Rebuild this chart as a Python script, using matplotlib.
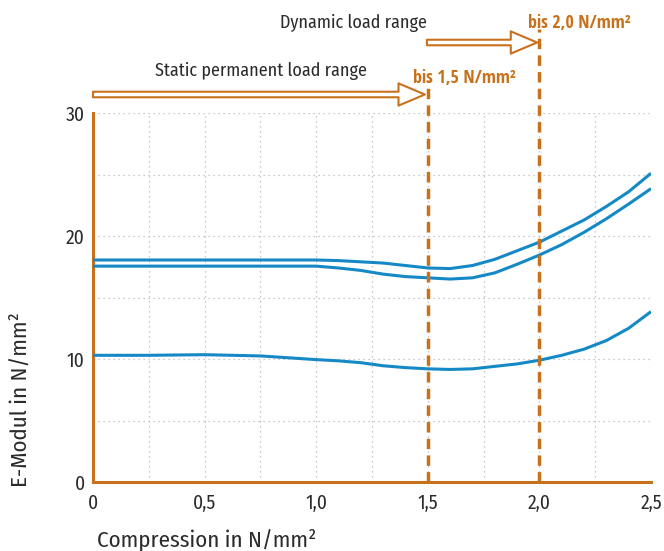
import matplotlib
matplotlib.use("Agg")
import matplotlib.pyplot as plt
from matplotlib import font_manager

# ---- data ----
x_vals = [0, 0.25, 0.5, 0.75, 1.0, 1.1, 1.2, 1.3, 1.4, 1.5, 1.6, 1.7, 1.8, 1.9, 2.0, 2.1, 2.2, 2.3, 2.4, 2.5]
curve_top = [18.05, 18.05, 18.05, 18.05, 18.05, 18.0, 17.9, 17.8, 17.6, 17.4, 17.35, 17.6, 18.1, 18.8, 19.5, 20.4, 21.3, 22.4, 23.6, 25.1]
curve_mid = [17.55, 17.55, 17.55, 17.55, 17.55, 17.4, 17.2, 16.9, 16.7, 16.6, 16.5, 16.6, 17.0, 17.7, 18.45, 19.3, 20.3, 21.4, 22.6, 23.85]
curve_low = [10.3, 10.3, 10.35, 10.25, 9.95, 9.85, 9.7, 9.45, 9.3, 9.2, 9.15, 9.2, 9.4, 9.6, 9.9, 10.3, 10.8, 11.5, 12.5, 13.85]

x_ticks = [0, 0.5, 1.0, 1.5, 2.0, 2.5]
x_tick_labels = ["0", "0,5", "1,0", "1,5", "2,0", "2,5"]
y_ticks = [0, 10, 20, 30]
y_tick_labels = ["0", "10", "20", "30"]
limits = [1.5, 2.0]
limit_labels = ["bis 1,5 N/mm²", "bis 2,0 N/mm²"]
range_labels = ["Static permanent load range", "Dynamic load range"]

ORANGE = "#C8711C"
BLUE = "#1589C6"
TXT = "#2b2b2b"

names = {f.name for f in font_manager.fontManager.ttflist}
def pick(cands):
    for c in cands:
        if c in names:
            return c
    return "DejaVu Sans"
REG = pick(["Fira Sans Condensed", "Roboto Condensed", "Encode Sans Condensed", "PT Sans Narrow"])
BOLD = pick(["Open Sans Condensed", "Fira Sans Condensed", "Roboto Condensed"])
plt.rcParams["font.family"] = [REG, "DejaVu Sans"]
reg = dict(family=[REG, "DejaVu Sans"], weight="normal")
bold = dict(family=[BOLD, "DejaVu Sans"], weight="bold")

fig = plt.figure(figsize=(6.64, 5.51), dpi=100)
ax = fig.add_axes([93/664, 69/551, 558/664, 369/551])

for c in (curve_top, curve_mid, curve_low):
    ax.plot(x_vals, c, color=BLUE, lw=2.2, solid_capstyle="butt", zorder=3)

ax.set_xlim(0, 2.5)
ax.set_ylim(0, 30)

# grid
for gx in [0.25 * i for i in range(1, 11)]:
    ax.axvline(gx, color="#b8b8b8", lw=0.9, ls=(0, (1, 3)), zorder=1)
for gy in [5, 10, 15, 20, 25, 30]:
    ax.axhline(gy, color="#b8b8b8", lw=0.9, ls=(0, (1, 3)), zorder=1)

for s in ["top", "right"]:
    ax.spines[s].set_visible(False)
for s in ["left", "bottom"]:
    ax.spines[s].set_color(ORANGE)
    ax.spines[s].set_linewidth(2.2)

ax.set_xticks(x_ticks)
ax.set_xticklabels(x_tick_labels, **reg)
ax.set_yticks(y_ticks)
ax.set_yticklabels(y_tick_labels, **reg)
ax.tick_params(length=0, labelsize=14, labelcolor=TXT, pad=6)
ax.tick_params(axis="x", pad=8)

# limit lines
top_fracs = [(482 - 80) / 369, (482 - 29) / 369]
for lx, tf in zip(limits, top_fracs):
    ax.plot([lx, lx], [0, tf], transform=ax.get_xaxis_transform(), color=ORANGE,
            lw=2.5, ls=(0, (3, 1.8)), clip_on=False, zorder=4)

# arrows
arrow_specs = [(0.0, 1.487, (482 - 94.5) / 369), (1.496, 1.99, (482 - 42.5) / 369)]
for x0, x1, yf in arrow_specs:
    ax.annotate("", xy=(x1, yf), xytext=(x0, yf), xycoords=("data", "axes fraction"),
                textcoords=("data", "axes fraction"),
                arrowprops=dict(arrowstyle="simple,head_length=1.9,head_width=1.6,tail_width=0.4",
                                fc="white", ec=ORANGE, lw=1.5, shrinkA=0, shrinkB=0,
                                mutation_scale=10), annotation_clip=False)

fig.text(155/664, 1 - 76/551, range_labels[0], fontsize=13, color=TXT, ha="left", va="baseline", **reg)
fig.text(280/664, 1 - 28/551, range_labels[1], fontsize=13, color=TXT, ha="left", va="baseline", **reg)
fig.text(413/664, 1 - 83/551, limit_labels[0], fontsize=13, color=ORANGE, ha="left", va="baseline", **bold)
fig.text(528/664, 1 - 28/551, limit_labels[1], fontsize=13, color=ORANGE, ha="left", va="baseline", **bold)

fig.text(97/664, 1 - 547/551, "Compression in N/mm²", fontsize=16.5, color=TXT, ha="left", va="baseline", **reg)
fig.text(20/664, 1 - 400/551, "E-Modul in N/mm²", fontsize=16.5, color=TXT, rotation=90, ha="center", va="center", **reg)

fig.savefig("out.png", dpi=100)
